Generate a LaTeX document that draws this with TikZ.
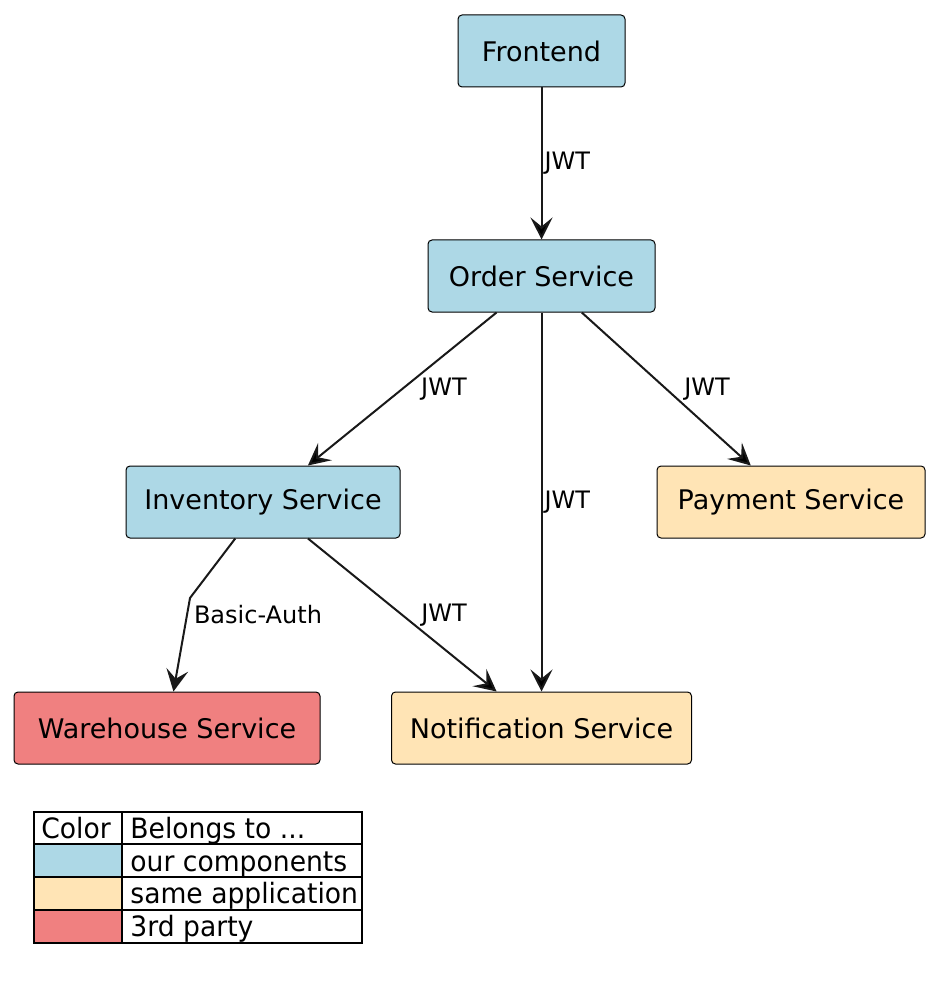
\documentclass[tikz,border=0pt]{standalone}
\usepackage{fontspec}
\setmainfont{DejaVu Sans}
\newfontfamily\legendfont[FakeStretch=0.95]{DejaVu Sans}
\usetikzlibrary{arrows.meta}

\definecolor{ourblue}{HTML}{ADD8E6}
\definecolor{sameapp}{HTML}{FFE4B5}
\definecolor{thirdparty}{HTML}{F08080}

\begin{document}
\begin{tikzpicture}[x=0.5pt, y=-0.5pt,
	service/.style={draw, rounded corners=2pt, line width=0.5pt, inner sep=0pt, minimum height=36pt, font=\fontsize{13.5}{16}\selectfont},
	lbl/.style={anchor=west, inner sep=0pt, font=\fontsize{12}{14}\selectfont},
	legend/.style={anchor=base west, inner sep=0pt, font=\legendfont\fontsize{14}{16}\selectfont},
	conn/.style={->, line width=1pt, draw=black!90},
	>={Stealth[length=11pt, width=11pt, inset=4.5pt]}]
			\useasboundingbox (0,0) rectangle (935,994);
			
			\node[service, fill=ourblue, minimum width=83.5pt] (front) at (541.5,51) {Frontend};
			\node[service, fill=ourblue, minimum width=113.5pt] (order) at (541.5,276) {Order Service};
			\node[service, fill=ourblue, minimum width=137pt] (inv) at (263,502) {Inventory Service};
			\node[service, fill=sameapp, minimum width=134pt] (pay) at (791,502) {Payment Service};
			\node[service, fill=thirdparty, minimum width=153pt] (ware) at (167,728) {Warehouse Service};
			\node[service, fill=sameapp, minimum width=150pt] (notif) at (541.5,728) {Notification Service};
			\coordinate (bend) at (190,598);
			
			\path[conn] (front) edge node[lbl, xshift=1pt] {JWT} (order);
			\path[conn] (order) edge node[lbl, xshift=9pt] {JWT} (inv);
			\path[conn] (order) edge node[lbl, xshift=1pt] {JWT} (notif);
			\path[conn] (order) edge node[lbl, xshift=8.5pt] {JWT} (pay);
			\path[conn] (inv) edge node[lbl, xshift=9pt] {JWT} (notif);
			\draw[conn] (inv) -- (bend) node[lbl, xshift=1.5pt, yshift=-8.5pt] {Basic-Auth} -- (ware);
			
			% legend
			\fill[ourblue] (34,844) rectangle (122,877);
			\fill[sameapp] (34,877) rectangle (122,910);
			\fill[thirdparty] (34,910) rectangle (122,943);
			\draw[line width=0.9pt] (34,812) rectangle (362,943);
			\draw[line width=0.9pt] (122,812) -- (122,943);
			\foreach \y in {844,877,910}
				\draw[line width=0.9pt] (34,\y) -- (362,\y);
			\node[legend] (lcolor) at (41,838) {Color};
			\node[legend] (lbelongs) at (130,838) {Belongs to ...};
			\node[legend] (lour) at (130,871) {our components};
			\node[legend] (lsame) at (130,903) {same application};
			\node[legend] (lthird) at (130,936) {3rd party};
		\end{tikzpicture}
\end{document}
